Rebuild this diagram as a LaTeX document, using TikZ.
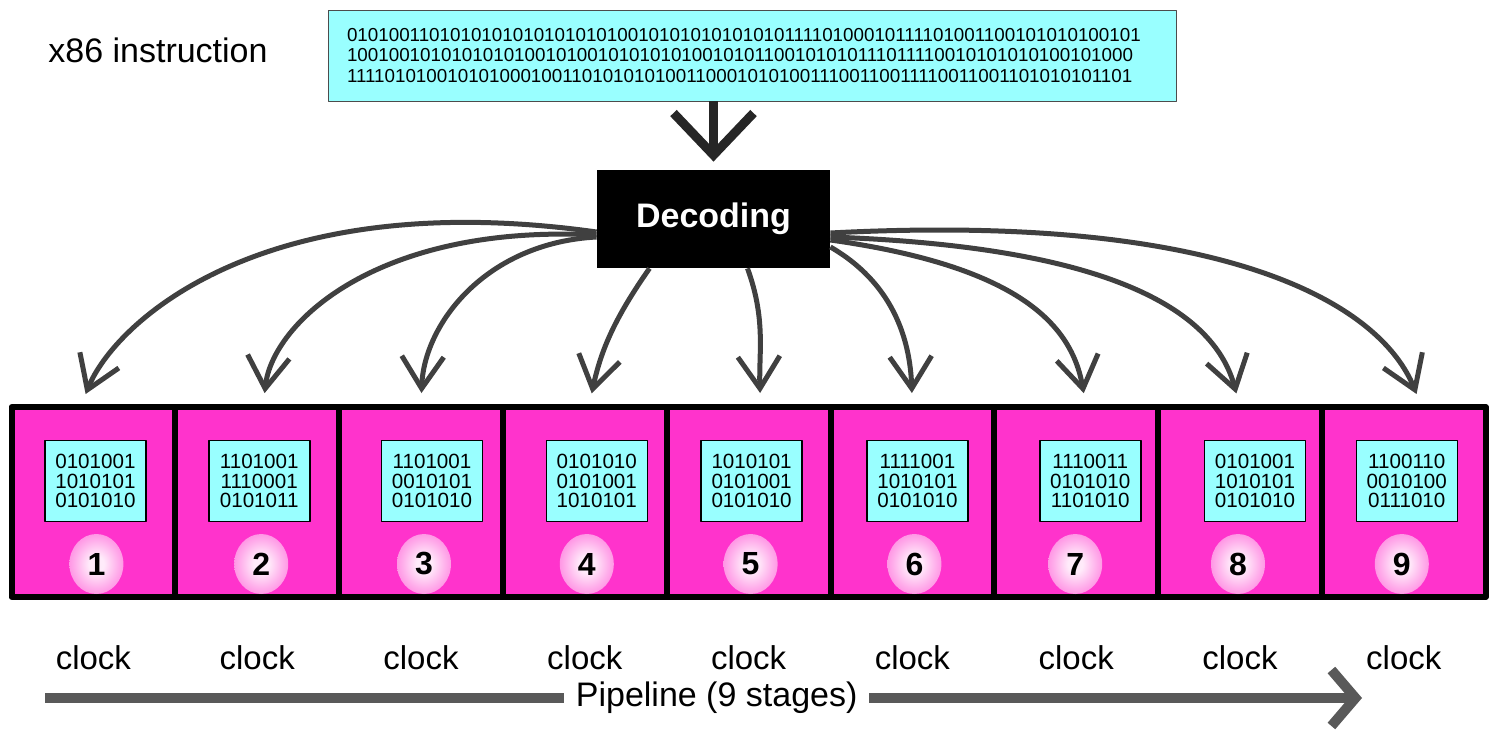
\documentclass[tikz,border=0pt]{standalone}
\usepackage{fontspec}
\setmainfont{Liberation Sans}
\usetikzlibrary{arrows.meta,positioning,calc,shapes.geometric}

\definecolor{stagepink}{HTML}{FF33CC}
\definecolor{bitcyan}{HTML}{99FFFF}
\colorlet{haloin}{stagepink!10!white}
\colorlet{halomid}{stagepink!40!white}
\colorlet{haloout}{stagepink!72!white}
\pgfdeclareradialshading{halo}{\pgfpoint{0bp}{0bp}}{%
  color(0bp)=(haloin); color(7bp)=(haloin); color(20bp)=(halomid);
  color(35bp)=(haloout); color(50bp)=(stagepink)}

\begin{document}
\begin{tikzpicture}[
    x=0.5pt, y=0.5pt,
    line join=round,
    caption/.style={font=\fontsize{17}{20}\selectfont},
    word/.style={
        draw=black!70,
        fill=bitcyan,
        minimum width=424pt,
        minimum height=45.5pt,
        text width=405pt,
        align=left,
        inner sep=0pt,
        font=\fontsize{9.4}{10.25}\selectfont
    },
    decoder/.style={
        fill=black,
        text=white,
        minimum width=116.5pt,
        minimum height=49pt,
        font=\fontsize{17}{20}\selectfont\bfseries
    },
    stage/.style={
        draw,
        line width=3pt,
        fill=stagepink,
        minimum width=81.9pt,
        minimum height=95pt,
        inner sep=0pt,
        outer sep=0pt
    },
    bits/.style={
        draw,
        line width=0.8pt,
        fill=bitcyan,
        minimum width=50.5pt,
        minimum height=40.5pt,
        align=center,
        inner sep=0pt,
        font=\fontsize{10.3}{9.8}\selectfont
    },
    num/.style={ellipse, shading=halo, minimum width=27pt, minimum height=30pt,
        inner sep=0pt, font=\fontsize{16}{16}\selectfont\bfseries},
    clock/.style={font=\fontsize{16.5}{18}\selectfont},
    flow/.style={-{Straight Barb[length=16pt,width=21pt]}, line width=2.5pt,
        draw=black!75, shorten >=7pt},
    feed/.style={-{Straight Barb[length=21pt,width=40pt]}, line width=4.5pt,
        draw=black!85, shorten >=4pt},
    pipe/.style={-{Straight Barb[length=12pt,width=28pt]}, line width=5pt,
        draw=black!65}
]
\path[fill=white, use as bounding box] (0,0) rectangle (1489,730);

% =========================
% Instruction and decoder
% =========================
\node[caption] (isa) at (158,680) {x86 instruction};

\node[word] (word) at (752,674.5) {%
01010011010101010101010101001010101010101011110100010111101001100101010100101\\
1001001010101010100101001010101010010101100101010111011110010101010100101000\\
11110101001010100010011010101010011000101010011100110011110011001101010101101};

\node[decoder] (dec) at (713.5,511) {Decoding};

\draw[feed] (word.south -| dec.north) -- (dec.north);

% =========================
% Pipeline stages
% =========================
\node[stage] (s1) at (93.4,228) {};
\node[stage, right=0pt of s1] (s2) {};
\node[stage, right=0pt of s2] (s3) {};
\node[stage, right=0pt of s3] (s4) {};
\node[stage, right=0pt of s4] (s5) {};
\node[stage, right=0pt of s5] (s6) {};
\node[stage, right=0pt of s6] (s7) {};
\node[stage, right=0pt of s7] (s8) {};
\node[stage, right=0pt of s8] (s9) {};

\node[bits] (b1) at ($(s1)+(2,21)$) {0101001\\1010101\\0101010};
\node[bits] (b2) at ($(s2)+(2,21)$) {1101001\\1110001\\0101011};
\node[bits] (b3) at ($(s3)+(11,21)$) {1101001\\0010101\\0101010};
\node[bits] (b4) at ($(s4)+(12,21)$) {0101010\\0101001\\1010101};
\node[bits] (b5) at ($(s5)+(3,21)$) {1010101\\0101001\\0101010};
\node[bits] (b6) at ($(s6)+(5,21)$) {1111001\\1010101\\0101010};
\node[bits] (b7) at ($(s7)+(14,21)$) {1110011\\0101010\\1101010};
\node[bits] (b8) at ($(s8)+(15,21)$) {0101001\\1010101\\0101010};
\node[bits] (b9) at ($(s9)+(3,21)$) {1100110\\0010100\\0111010};

\node[num] (n1) at ($(s1)+(3,-62)$) {1};
\node[num] (n2) at ($(s2)+(4,-62)$) {2};
\node[num] (n3) at ($(s3)+(3,-62)$) {3};
\node[num] (n4) at ($(s4)+(2,-62)$) {4};
\node[num] (n5) at ($(s5)+(2,-62)$) {5};
\node[num] (n6) at ($(s6)+(2,-62)$) {6};
\node[num] (n7) at ($(s7)+(-1,-62)$) {7};
\node[num] (n8) at ($(s8)+(-2,-62)$) {8};
\node[num] (n9) at ($(s9)+(-2,-62)$) {9};

% =========================
% Decoder outputs
% =========================
\draw[flow] ([yshift=-6.5pt]dec.west) to[out=172,in=68,out distance=170pt,in distance=45pt] ([xshift=-6.5pt]s1.north);
\draw[flow] ([yshift=-8pt]dec.west) to[out=177,in=84,out distance=110pt,in distance=42pt] ([xshift=3pt]s2.north);
\draw[flow] ([yshift=-9pt]dec.west) to[out=183,in=88,out distance=55pt,in distance=42pt] (s3.north);
\draw[flow] ([xshift=-32pt]dec.south) to[out=235,in=78] ([xshift=2pt]s4.north);
\draw[flow] ([xshift=17pt]dec.south) to[out=-70,in=92] ([xshift=6pt]s5.north);
\draw[flow] ([yshift=-14pt]dec.east) to[out=-30,in=92] (s6.north);
\draw[flow] ([yshift=-10.5pt]dec.east) to[out=-8,in=100,out distance=95pt,in distance=42pt] ([xshift=5pt]s7.north);
\draw[flow] ([yshift=-9pt]dec.east) to[out=-2,in=105,out distance=145pt,in distance=48pt] (s8.north);
\draw[flow] ([yshift=-7pt]dec.east) to[out=3,in=112,out distance=200pt,in distance=55pt] ([xshift=9pt]s9.north);

% =========================
% Clocks and pipeline
% =========================
\node[clock, below=21pt of s1] (c1) {clock};
\node[clock, below=21pt of s2] (c2) {clock};
\node[clock, below=21pt of s3] (c3) {clock};
\node[clock, below=21pt of s4] (c4) {clock};
\node[clock, below=21pt of s5] (c5) {clock};
\node[clock, below=21pt of s6] (c6) {clock};
\node[clock, below=21pt of s7] (c7) {clock};
\node[clock, below=21pt of s8] (c8) {clock};
\node[clock, below=21pt of s9] (c9) {clock};

\coordinate (pstart) at (45,32);
\coordinate (pend) at (1362,32);
\draw[pipe] (pstart) -- node[caption, fill=white, inner xsep=6pt, pos=0.51] (ptext) {Pipeline (9 stages)} (pend);

\end{tikzpicture}
\end{document}
